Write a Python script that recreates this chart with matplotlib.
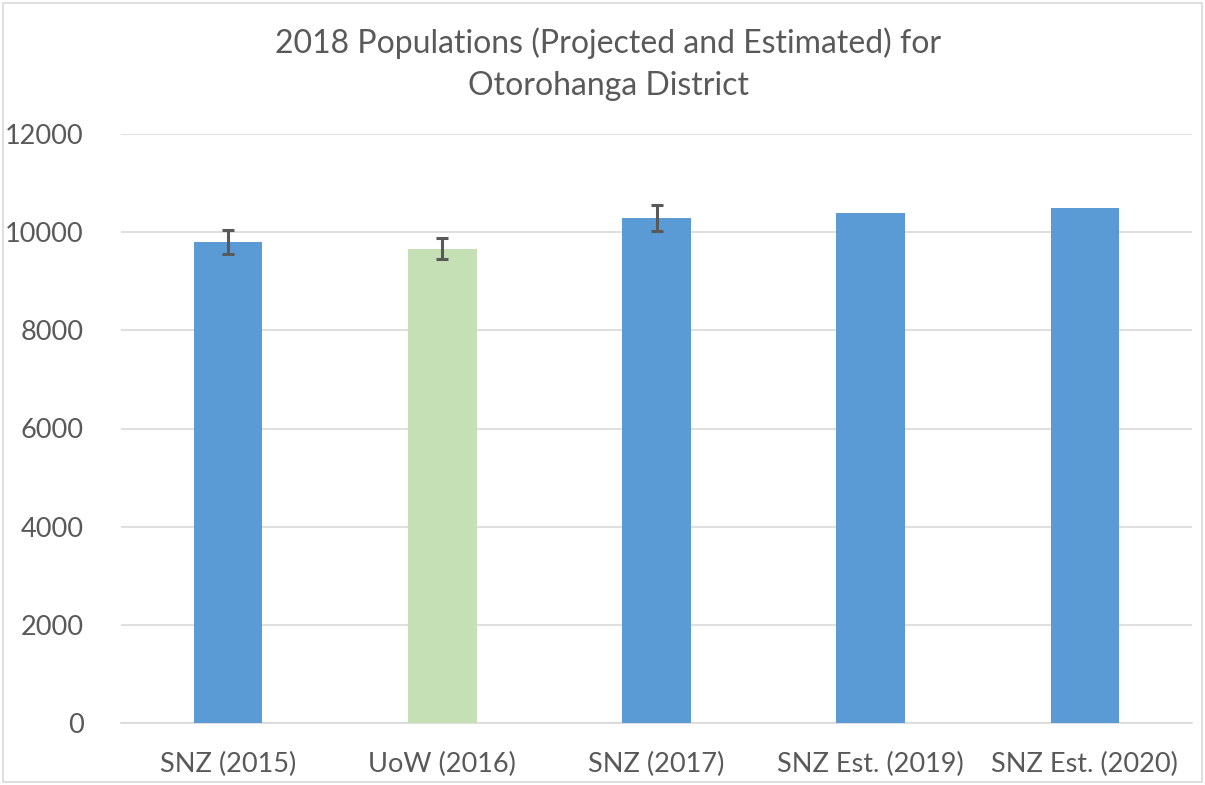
import matplotlib
matplotlib.use("Agg")
import matplotlib.pyplot as plt
from matplotlib.patches import Rectangle

categories = ["SNZ (2015)", "UoW (2016)", "SNZ (2017)", "SNZ Est. (2019)", "SNZ Est. (2020)"]
values = [9800, 9660, 10290, 10390, 10500]
errors = [250, 215, 260, 0, 0]
colors = ["#5B9BD5", "#C5E0B4", "#5B9BD5", "#5B9BD5", "#5B9BD5"]
yticks = [0, 2000, 4000, 6000, 8000, 10000, 12000]

plt.rcParams['font.family'] = ['Lato', 'DejaVu Sans']
txt = "#595959"

fig = plt.figure(figsize=(12.05, 7.85), dpi=100)
ax = fig.add_axes([121/1205, 1 - 723/785, (1192-121)/1205, (723-134)/785])

x = list(range(len(categories)))
ax.bar(x, values, width=0.32, color=colors, zorder=3)
for xi, v, e in zip(x, values, errors):
    if e > 0:
        ax.errorbar(xi, v, yerr=e, fmt='none', ecolor="#595959", elinewidth=2.2,
                    capsize=4, capthick=2.2, zorder=4)

ax.set_xlim(-0.5, len(categories) - 0.5)
ax.set_ylim(0, 12000)
ax.set_yticks(yticks)
ax.set_yticklabels([str(t) for t in yticks])
ax.set_xticks(x)
ax.set_xticklabels(categories)
ax.grid(axis='y', color="#D9D9D9", linewidth=1.2, zorder=0)
for s in ['top', 'right', 'left']:
    ax.spines[s].set_visible(False)
ax.spines['bottom'].set_color("#D9D9D9")
ax.spines['bottom'].set_linewidth(1.2)
ax.tick_params(axis='both', length=0, labelsize=19.5, colors=txt)
ax.tick_params(axis='y', pad=27)
ax.tick_params(axis='x', pad=21)

fig.text(0.505, 1 - 64/785, "2018 Populations (Projected and Estimated) for\nOtorohanga District",
         ha='center', va='center', fontsize=23, color=txt, linespacing=1.5)

fig.patches.append(Rectangle((3/1205, 3/785), 1 - 6/1205, 1 - 6/785, transform=fig.transFigure,
                             fill=False, edgecolor="#D9D9D9", linewidth=1.2))

fig.savefig("out.png", dpi=100)
